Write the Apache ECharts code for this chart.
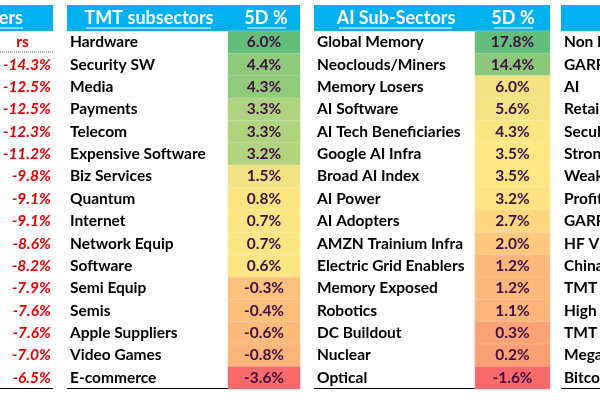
<!DOCTYPE html>
<html><head><meta charset="utf-8">
<script src="https://cdn.jsdelivr.net/npm/echarts@6/dist/echarts.min.js"></script>
<style>html,body{margin:0;padding:0;background:#fff}#c{width:600px;height:400px}</style>
</head><body><div id="c"></div>
<script>
const leftVals = [-14.3,-12.5,-12.5,-12.3,-11.2,-9.8,-9.1,-9.1,-8.6,-8.2,-7.9,-7.6,-7.6,-7.0,-6.5];
const tmtNames = ['Hardware','Security SW','Media','Payments','Telecom','Expensive Software','Biz Services','Quantum','Internet','Network Equip','Software','Semi Equip','Semis','Apple Suppliers','Video Games','E-commerce'];
const tmtVals = [6.0,4.4,4.3,3.3,3.3,3.2,1.5,0.8,0.7,0.7,0.6,-0.3,-0.4,-0.6,-0.8,-3.6];
const aiNames = ['Global Memory','Neoclouds/Miners','Memory Losers','AI Software','AI Tech Beneficiaries','Google AI Infra','Broad AI Index','AI Power','AI Adopters','AMZN Trainium Infra','Electric Grid Enablers','Memory Exposed','Robotics','DC Buildout','Nuclear','Optical'];
const aiVals = [17.8,14.4,6.0,5.6,4.3,3.5,3.5,3.2,2.7,2.0,1.2,1.2,1.1,0.3,0.2,-1.6];
const rightNames = ['Non Profitable Tech','GARP','AI','Retail Favorites','Secular Growth','Strong Balance Sheet','Weak Balance Sheet','Profitable Tech','GARP Tech','HF VIP','China Tech','TMT Crowded','High Short Interest','TMT retail','Mega Cap','Bitcoin'];

const tmtStops = [[-3.6,'#f8696b'],[-0.8,'#fbb479'],[-0.3,'#fcc07c'],[0.6,'#fee683'],[1.5,'#f1e383'],[3.2,'#b3d47f'],[4.4,'#8fc97c'],[6.0,'#63be7b']];
const aiStops = [[-1.6,'#f8696b'],[0.2,'#fb9f75'],[1.2,'#fcb77a'],[2.0,'#fdc87d'],[3.5,'#ffe884'],[6.0,'#f1e383'],[14.4,'#8cc87c'],[17.8,'#63be7b']];
function hex(h){return [1,3,5].map(i=>parseInt(h.substr(i,2),16));}
function sample(stops,n){
  const mn=stops[0][0], mx=stops[stops.length-1][0], out=[];
  for(let k=0;k<n;k++){
    const v=mn+(mx-mn)*k/(n-1); let i=0;
    while(i<stops.length-2 && v>stops[i+1][0]) i++;
    const a=stops[i],b=stops[i+1],t=Math.min(1,Math.max(0,(v-a[0])/(b[0]-a[0])));
    const ca=hex(a[1]),cb=hex(b[1]);
    out.push('rgb('+ca.map((c,j)=>Math.round(c+(cb[j]-c)*t)).join(',')+')');
  }
  return out;
}
const F='Lato, "DejaVu Sans", sans-serif';
const FS=15.5;
const TOP=31, H=358;
const chart=echarts.init(document.getElementById('c'));
function yAx(idx,names,margin,align,extra){
  return Object.assign({type:'category',gridIndex:idx,data:names,inverse:true,
    axisLine:{show:false},axisTick:{show:false},splitLine:{show:false},
    axisLabel:{margin:margin,align:align,color:'#000',fontFamily:F,fontWeight:'bold',fontSize:FS}},extra||{});
}
function xAx(idx){return {type:'category',gridIndex:idx,data:['5D'],show:false};}
const leftCats=['rs'].concat(leftVals.map(v=>v.toFixed(1)+'%'));
chart.setOption({
  animation:false,
  grid:[
    {left:228,width:72,top:TOP,height:H},
    {left:475,width:75,top:TOP,height:H},
    {left:600,width:30,top:TOP,height:H},
    {left:50,width:10,top:TOP,height:H}
  ],
  xAxis:[xAx(0),xAx(1),xAx(2),xAx(3)],
  yAxis:[
    yAx(0,tmtNames,158,'left'),
    yAx(1,aiNames,158,'left'),
    yAx(2,rightNames,36,'left'),
    yAx(3,leftCats,6,'right',{axisLabel:{margin:6,align:'right',fontFamily:F,fontWeight:'bold',fontSize:FS,
      formatter:(v,i)=>i===0?'{h|'+v+'}':'{r|'+v+'}',
      rich:{h:{color:'#e00000',fontFamily:F,fontSize:FS,align:'right',padding:[0,22,0,0]},r:{color:'#e00000',fontStyle:'italic',fontWeight:'bold',fontFamily:F,fontSize:FS}}}})
  ],
  visualMap:[
    {type:'continuous',show:false,seriesIndex:0,dimension:2,min:-3.6,max:6.0,inRange:{color:sample(tmtStops,80)}},
    {type:'continuous',show:false,seriesIndex:1,dimension:2,min:-1.6,max:17.8,inRange:{color:sample(aiStops,120)}}
  ],
  series:[
    {type:'heatmap',xAxisIndex:0,yAxisIndex:0,data:tmtVals.map((v,i)=>[0,i,v]),
      itemStyle:{borderColor:'rgba(255,255,255,0.35)',borderWidth:0.5},
      label:{show:true,color:'#3f0f3f',fontFamily:F,fontWeight:'bold',fontSize:FS,formatter:p=>p.value[2].toFixed(1)+'%'}},
    {type:'heatmap',xAxisIndex:1,yAxisIndex:1,data:aiVals.map((v,i)=>[0,i,v]),
      itemStyle:{borderColor:'rgba(255,255,255,0.35)',borderWidth:0.5},
      label:{show:true,color:'#3f0f3f',fontFamily:F,fontWeight:'bold',fontSize:FS,formatter:p=>p.value[2].toFixed(1)+'%'}}
  ],
  graphic:[
    {type:'rect',shape:{x:0,y:5,width:53,height:26},style:{fill:'#00b0f0'}},
    {type:'rect',shape:{x:67,y:5,width:233,height:26},style:{fill:'#00b0f0'}},
    {type:'rect',shape:{x:314,y:5,width:236,height:26},style:{fill:'#00b0f0'}},
    {type:'rect',shape:{x:561,y:5,width:40,height:26},style:{fill:'#00b0f0'}},
    {type:'text',x:23,y:18,style:{text:'ers',fill:'#fff',font:'bold 18px '+F,align:'right',verticalAlign:'middle'}},
    {type:'text',x:149,y:18,style:{text:'TMT subsectors',fill:'#fff',font:'bold 18px '+F,align:'center',verticalAlign:'middle'}},
    {type:'text',x:266,y:18,style:{text:'5D %',fill:'#fff',font:'bold 18px '+F,align:'center',verticalAlign:'middle'}},
    {type:'text',x:396,y:18,style:{text:'AI Sub-Sectors',fill:'#fff',font:'bold 18px '+F,align:'center',verticalAlign:'middle'}},
    {type:'text',x:513,y:18,style:{text:'5D %',fill:'#fff',font:'bold 18px '+F,align:'center',verticalAlign:'middle'}},
    {type:'line',shape:{x1:0,y1:28,x2:23,y2:28},style:{stroke:'#fff',lineWidth:1}},
    {type:'line',shape:{x1:86,y1:28,x2:211,y2:28},style:{stroke:'#fff',lineWidth:1}},
    {type:'line',shape:{x1:247,y1:28,x2:286,y2:28},style:{stroke:'#fff',lineWidth:1}},
    {type:'line',shape:{x1:339,y1:28,x2:452,y2:28},style:{stroke:'#fff',lineWidth:1}},
    {type:'line',shape:{x1:494,y1:28,x2:533,y2:28},style:{stroke:'#fff',lineWidth:1}},
    {type:'line',shape:{x1:0,y1:52,x2:53,y2:52},style:{stroke:'#555',lineWidth:1,lineDash:[1,1]}},
    {type:'line',shape:{x1:0,y1:388.5,x2:53,y2:388.5},style:{stroke:'#000',lineWidth:1}},
    {type:'line',shape:{x1:67,y1:388.5,x2:300,y2:388.5},style:{stroke:'#000',lineWidth:1}},
    {type:'line',shape:{x1:314,y1:388.5,x2:550,y2:388.5},style:{stroke:'#000',lineWidth:1}},
    {type:'line',shape:{x1:561,y1:388.5,x2:600,y2:388.5},style:{stroke:'#000',lineWidth:1}},
    {type:'polygon',shape:{points:[[476,124],[482,124],[476,130]]},style:{fill:'#108010'}}
  ]
});
</script></body></html>
